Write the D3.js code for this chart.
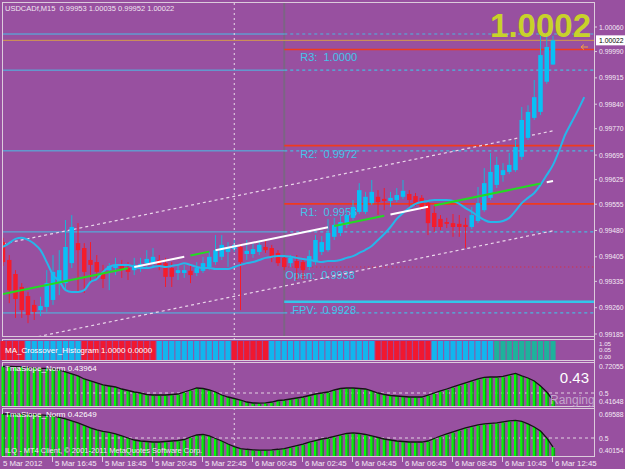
<!DOCTYPE html>
<html>
<head>
<meta charset="utf-8">
<script src="https://cdn.jsdelivr.net/npm/d3@7/dist/d3.min.js"></script>
<style>
  body { margin: 0; background: #9850a0; }
  svg { display: block; font-family: "Liberation Sans", Arial, sans-serif; }
</style>
</head>
<body>
<div id="chart"></div>
<script>
// ---- data ----
var chartTitle = "USDCADf,M15  0.99953 1.00035 0.99952 1.00022";

var barOpen = [
  0.99447, 0.99396, 0.99356, 0.99319, 0.99293, 0.99268, 0.99253, 0.99262, 0.99282, 0.99330,
  0.99330, 0.99387, 0.99444, 0.99430, 0.99396, 0.99390, 0.99362, 0.99367, 0.99373, 0.99379,
  0.99373, 0.99367, 0.99373, 0.99387, 0.99387, 0.99396, 0.99387, 0.99373, 0.99359, 0.99359,
  0.99365, 0.99359, 0.99365, 0.99376, 0.99390, 0.99405, 0.99419, 0.99427, 0.99433, 0.99413,
  0.99413, 0.99419, 0.99433, 0.99430, 0.99416, 0.99402, 0.99387, 0.99393, 0.99390, 0.99376,
  0.99390, 0.99419, 0.99424, 0.99462, 0.99473, 0.99496, 0.99516, 0.99533, 0.99533, 0.99558,
  0.99576, 0.99570, 0.99564, 0.99567, 0.99576, 0.99584, 0.99578, 0.99573, 0.99558, 0.99530,
  0.99513, 0.99504, 0.99501, 0.99499, 0.99496, 0.99490, 0.99507, 0.99538, 0.99573, 0.99610,
  0.99638, 0.99647, 0.99652, 0.99690, 0.99744, 0.99801, 0.99818, 0.99904, 0.99953
];
var barHigh = [
  0.99459, 0.99410, 0.99367, 0.99330, 0.99305, 0.99282, 0.99291, 0.99367, 0.99410, 0.99424,
  0.99510, 0.99524, 0.99501, 0.99444, 0.99447, 0.99410, 0.99382, 0.99387, 0.99402, 0.99396,
  0.99390, 0.99402, 0.99402, 0.99424, 0.99430, 0.99410, 0.99402, 0.99390, 0.99382, 0.99382,
  0.99379, 0.99390, 0.99405, 0.99419, 0.99467, 0.99467, 0.99447, 0.99453, 0.99442, 0.99453,
  0.99442, 0.99453, 0.99453, 0.99439, 0.99424, 0.99410, 0.99410, 0.99410, 0.99402, 0.99424,
  0.99467, 0.99464, 0.99513, 0.99516, 0.99524, 0.99538, 0.99567, 0.99615, 0.99590, 0.99624,
  0.99595, 0.99601, 0.99590, 0.99601, 0.99624, 0.99595, 0.99587, 0.99581, 0.99567, 0.99550,
  0.99524, 0.99516, 0.99527, 0.99524, 0.99516, 0.99547, 0.99604, 0.99658, 0.99701, 0.99690,
  0.99672, 0.99701, 0.99738, 0.99832, 0.99837, 0.99909, 1.00043, 1.00043, 1.00035
];
var barLow = [
  0.99379, 0.99273, 0.99231, 0.99231, 0.99216, 0.99225, 0.99236, 0.99248, 0.99268, 0.99296,
  0.99310, 0.99373, 0.99305, 0.99302, 0.99330, 0.99339, 0.99316, 0.99310, 0.99353, 0.99345,
  0.99339, 0.99353, 0.99362, 0.99373, 0.99373, 0.99367, 0.99319, 0.99319, 0.99339, 0.99345,
  0.99330, 0.99350, 0.99359, 0.99367, 0.99382, 0.99396, 0.99376, 0.99419, 0.99253, 0.99396,
  0.99402, 0.99410, 0.99416, 0.99390, 0.99379, 0.99367, 0.99376, 0.99339, 0.99339, 0.99367,
  0.99382, 0.99410, 0.99419, 0.99453, 0.99464, 0.99487, 0.99510, 0.99527, 0.99527, 0.99553,
  0.99524, 0.99538, 0.99547, 0.99561, 0.99570, 0.99544, 0.99550, 0.99538, 0.99467, 0.99476,
  0.99481, 0.99487, 0.99462, 0.99462, 0.99430, 0.99484, 0.99501, 0.99533, 0.99567, 0.99601,
  0.99619, 0.99641, 0.99647, 0.99681, 0.99738, 0.99795, 0.99809, 0.99898, 0.99952
];
var barClose = [
  0.99390, 0.99310, 0.99285, 0.99253, 0.99239, 0.99248, 0.99265, 0.99330, 0.99362, 0.99367,
  0.99433, 0.99490, 0.99424, 0.99362, 0.99382, 0.99362, 0.99342, 0.99379, 0.99382, 0.99367,
  0.99362, 0.99382, 0.99385, 0.99399, 0.99405, 0.99382, 0.99348, 0.99348, 0.99367, 0.99367,
  0.99353, 0.99373, 0.99387, 0.99405, 0.99424, 0.99439, 0.99433, 0.99439, 0.99390, 0.99422,
  0.99427, 0.99439, 0.99424, 0.99402, 0.99387, 0.99376, 0.99402, 0.99373, 0.99367, 0.99407,
  0.99453, 0.99447, 0.99473, 0.99496, 0.99504, 0.99524, 0.99547, 0.99595, 0.99576, 0.99590,
  0.99561, 0.99564, 0.99573, 0.99581, 0.99593, 0.99567, 0.99558, 0.99544, 0.99501, 0.99490,
  0.99490, 0.99499, 0.99490, 0.99490, 0.99490, 0.99524, 0.99558, 0.99615, 0.99647, 0.99667,
  0.99652, 0.99667, 0.99718, 0.99795, 0.99818, 0.99860, 0.99980, 1.00003, 1.00022
];

// TMA line (runs a few bars past the last candle)
var tmaLine = [
  0.99433, 0.99444, 0.99456, 0.99459, 0.99453, 0.99442, 0.99424, 0.99390, 0.99353, 0.99336,
  0.99310, 0.99305, 0.99305, 0.99310, 0.99333, 0.99342, 0.99362, 0.99376, 0.99382, 0.99382,
  0.99382, 0.99376, 0.99373, 0.99373, 0.99376, 0.99379, 0.99376, 0.99379, 0.99382, 0.99387,
  0.99382, 0.99376, 0.99373, 0.99373, 0.99370, 0.99370, 0.99370, 0.99376, 0.99382, 0.99387,
  0.99390, 0.99396, 0.99402, 0.99405, 0.99407, 0.99407, 0.99405, 0.99402, 0.99399, 0.99396,
  0.99393, 0.99390, 0.99393, 0.99393, 0.99396, 0.99402, 0.99407, 0.99416, 0.99425, 0.99436,
  0.99453, 0.99470, 0.99490, 0.99513, 0.99530, 0.99544, 0.99556, 0.99561, 0.99564, 0.99567,
  0.99567, 0.99567, 0.99564, 0.99556, 0.99544, 0.99533, 0.99521, 0.99510, 0.99504, 0.99504,
  0.99507, 0.99516, 0.99536, 0.99558, 0.99573, 0.99587, 0.99610, 0.99638, 0.99667, 0.99709,
  0.99755, 0.99789, 0.99823, 0.99860
];

// regression channel: value at first and last bar
var channelMid = [0.99299, 0.99621];
var channelUpper = [0.99442, 0.99764];
var channelLower = [0.99157, 0.99479];
// 1 = green, 0 = white segment of the middle line
var midState = [
  1,1,1,1,1,1,1,1,1,1, 1,1,1,1,1,1,1,1,1,1,
  1,0,0,0,0,0,0,0,0,0, 1,1,1,1,0,0,0,0,0,0,
  0,0,0,0,0,0,0,0,0,0, 0,0,0,1,1,1,1,1,1,1,
  1,1,0,0,0,0,0,0,0,1, 1,1,1,1,1,1,1,1,1,1,
  1,1,1,1,1,1,1,0,0
];

var levelPrices = [1.00040, 0.99937, 0.99707, 0.99476, 0.99245];
var pivotNames = ["R3", "R2", "R1", "Open", "FPV"];
var pivotValues = [0.99996, 0.99722, 0.99556, 0.99376, 0.99277];
var bidPrice = 1.00022;

var priceTicks = [1.00060, 0.99990, 0.99915, 0.99840, 0.99770, 0.99695, 0.99625,
                  0.99555, 0.99480, 0.99405, 0.99335, 0.99260, 0.99185];

var timeLabels = ["5 Mar 2012", "5 Mar 16:45", "5 Mar 18:45", "5 Mar 20:45", "5 Mar 22:45",
                  "6 Mar 00:45", "6 Mar 02:45", "6 Mar 04:45", "6 Mar 06:45", "6 Mar 08:45",
                  "6 Mar 10:45", "6 Mar 12:45"];
var timeLabelBars = [0, 8, 16, 24, 32, 40, 48, 56, 64, 72, 80, 88];
var daySeparatorBar = 37;
var pivotStartBar = 45;

// MA crossover histogram: 0 = red, 1 = blue, 2 = teal
var crossState = [
  0,0,0,0,1,1,1,1,1,1, 1,1,1,0,0,0,0,0,0,0,
  0,0,0,0,0,1,1,1,1,1, 1,1,1,1,1,1,1,0,0,0,
  0,0,0,1,1,1,1,1,1,1, 1,1,1,1,1,1,1,1,1,1,
  0,0,0,0,0,0,0,0,0,1, 1,1,1,1,1,1,1,1,1,2,
  2,2,2,2,2,2,2,2,2
];
var crossScaleLabels = ["1.05", "0.05", "0.00"];

var slopeA = [
  0.7205, 0.7205, 0.7200, 0.7167, 0.7125, 0.7083, 0.7042, 0.7042, 0.7000, 0.6917,
  0.6750, 0.6583, 0.6417, 0.6167, 0.6000, 0.5833, 0.5667, 0.5583, 0.5500, 0.5333,
  0.5208, 0.5083, 0.5000, 0.4875, 0.4833, 0.4833, 0.4833, 0.4875, 0.4917, 0.5083,
  0.5250, 0.5417, 0.5375, 0.5250, 0.5083, 0.4833, 0.4667, 0.4542, 0.4417, 0.4250,
  0.4167, 0.4165, 0.4170, 0.4250, 0.4375, 0.4417, 0.4500, 0.4583, 0.4667, 0.4792,
  0.4917, 0.5000, 0.5083, 0.5250, 0.5375, 0.5417, 0.5417, 0.5375, 0.5333, 0.5167,
  0.5000, 0.4875, 0.4792, 0.4750, 0.4708, 0.4667, 0.4667, 0.4667, 0.4833, 0.5000,
  0.5167, 0.5333, 0.5500, 0.5667, 0.5833, 0.6000, 0.6167, 0.6292, 0.6333, 0.6333,
  0.6375, 0.6500, 0.6625, 0.6417, 0.6250, 0.6000, 0.5583, 0.5083, 0.43964
];
var slopeB = [
  0.6959, 0.6959, 0.6959, 0.6959, 0.6926, 0.6926, 0.6885, 0.6844, 0.6803, 0.6680,
  0.6557, 0.6393, 0.6230, 0.6025, 0.5820, 0.5656, 0.5533, 0.5451, 0.5328, 0.5164,
  0.5000, 0.4836, 0.4754, 0.4713, 0.4672, 0.4672, 0.4713, 0.4754, 0.4795, 0.4877,
  0.5082, 0.5246, 0.5287, 0.5164, 0.4959, 0.4754, 0.4508, 0.4303, 0.4139, 0.4080,
  0.4035, 0.4016, 0.4016, 0.4035, 0.4080, 0.4139, 0.4262, 0.4385, 0.4508, 0.4672,
  0.4795, 0.4918, 0.5000, 0.5123, 0.5246, 0.5369, 0.5410, 0.5369, 0.5287, 0.5164,
  0.5041, 0.4918, 0.4836, 0.4754, 0.4713, 0.4672, 0.4672, 0.4672, 0.4754, 0.4959,
  0.5164, 0.5328, 0.5492, 0.5656, 0.5820, 0.5943, 0.6066, 0.6148, 0.6189, 0.6230,
  0.6311, 0.6393, 0.6434, 0.6352, 0.6148, 0.5902, 0.5574, 0.5000, 0.42649
];

// ---- layout ----
var W = 625, H = 469;
var right = 594;
var panel = {
  main: {top: 3, bottom: 336},
  cross: {top: 340, bottom: 360},
  s1: {top: 363, bottom: 406},
  s2: {top: 409, bottom: 456}
};
var bg = "#9850a0", frame = "#dccbdc", axisText = "#f4eaf4";
var bull = "#08c0f6", bear = "#f41c2c";
var axisFont = 6.8;

var svg = d3.select("#chart").append("svg")
    .attr("width", W)
    .attr("height", H);

svg.append("rect").attr("width", W).attr("height", H).attr("fill", bg);

var x = d3.scaleLinear().domain([0, 88]).range([3, 553]);
var y = d3.scaleLinear().domain([0.99185, 1.00060]).range([334, 27]);
var y1 = d3.scaleLinear().domain([0.5, 0.72055]).range([393, 366.5]);
var y2 = d3.scaleLinear().domain([0.5, 0.69588]).range([438, 414]);

// panel frames
Object.keys(panel).forEach(function(k) {
  var p = panel[k];
  svg.append("rect")
      .attr("x", 2.5).attr("y", p.top - 0.5)
      .attr("width", right - 2).attr("height", p.bottom - p.top + 1)
      .attr("fill", "none").attr("stroke", frame).attr("stroke-width", 1);
});
svg.append("line").attr("x1", right + 0.5).attr("x2", right + 0.5)
    .attr("y1", 2).attr("y2", 457).attr("stroke", frame);

svg.append("clipPath").attr("id", "clipMain")
  .append("rect").attr("x", 3).attr("y", panel.main.top)
    .attr("width", right - 3).attr("height", panel.main.bottom - panel.main.top);

var plot = svg.append("g").attr("clip-path", "url(#clipMain)");

// day separator through all panels
svg.append("line")
    .attr("x1", x(daySeparatorBar)).attr("x2", x(daySeparatorBar))
    .attr("y1", 3).attr("y2", 456)
    .attr("stroke", "#eadcea").attr("stroke-dasharray", "2,3");

// pivot start line
plot.append("line")
    .attr("x1", x(pivotStartBar)).attr("x2", x(pivotStartBar))
    .attr("y1", 3).attr("y2", 336)
    .attr("stroke", "#7c6484").attr("stroke-width", 2);

// cyan levels: solid before pivot start, dashed after
levelPrices.forEach(function(v) {
  plot.append("line")
      .attr("x1", 3).attr("x2", x(pivotStartBar))
      .attr("y1", y(v)).attr("y2", y(v))
      .attr("stroke", "#48bfe6").attr("stroke-width", 1);
  plot.append("line")
      .attr("x1", x(pivotStartBar)).attr("x2", right)
      .attr("y1", y(v)).attr("y2", y(v))
      .attr("stroke", "#48b8e0").attr("stroke-width", 1.2)
      .attr("stroke-dasharray", "3,3");
});

// bid line
plot.append("line")
    .attr("x1", 3).attr("x2", right)
    .attr("y1", y(bidPrice)).attr("y2", y(bidPrice))
    .attr("stroke", "#d49a4c").attr("stroke-width", 1);

// pivot lines
pivotNames.forEach(function(n, i) {
  var v = pivotValues[i];
  var ln = plot.append("line")
      .attr("x1", x(pivotStartBar)).attr("x2", right)
      .attr("y1", y(v)).attr("y2", y(v));
  if (n === "FPV") ln.attr("stroke", "#34c6ea").attr("stroke-width", 2.5);
  else if (n === "Open") ln.attr("stroke", "#e82828").attr("stroke-width", 1.2).attr("stroke-dasharray", "1,3");
  else ln.attr("stroke", "#f03a1e").attr("stroke-width", 1.6);
});

// pivot labels
var labelDx = {R3: 16, R2: 16, R1: 16, Open: 1, FPV: 8};
pivotNames.forEach(function(n, i) {
  plot.append("text")
      .attr("x", x(pivotStartBar) + labelDx[n])
      .attr("y", y(pivotValues[i]) + 12)
      .attr("fill", "#44c4ea")
      .attr("font-size", 11)
      .style("white-space", "pre")
      .text(n + ":  " + d3.format(".4f")(pivotValues[i]));
});

// regression channel
[channelUpper, channelLower].forEach(function(c) {
  plot.append("line")
      .attr("x1", x(0)).attr("x2", x(88))
      .attr("y1", y(c[0])).attr("y2", y(c[1]))
      .attr("stroke", "#ead6ea").attr("stroke-width", 1.2)
      .attr("stroke-dasharray", "3,3");
});

// candles
var bars = d3.range(barOpen.length).map(function(i) {
  return {i: i, o: barOpen[i], h: barHigh[i], l: barLow[i], c: barClose[i]};
});
var candle = plot.append("g").selectAll("g")
    .data(bars)
  .enter().append("g");
candle.append("line")
    .attr("x1", function(d) { return x(d.i); })
    .attr("x2", function(d) { return x(d.i); })
    .attr("y1", function(d) { return y(d.h); })
    .attr("y2", function(d) { return y(d.l); })
    .attr("stroke", function(d) { return d.c >= d.o ? "#18b4d8" : bear; })
    .attr("stroke-width", 1);
candle.append("rect")
    .attr("x", function(d) { return x(d.i) - 2.25; })
    .attr("width", 4.5)
    .attr("y", function(d) { return y(Math.max(d.o, d.c)); })
    .attr("height", function(d) { return Math.max(1.5, Math.abs(y(d.o) - y(d.c))); })
    .attr("fill", function(d) { return d.c >= d.o ? bull : bear; });

// TMA line
plot.append("path")
    .datum(tmaLine)
    .attr("fill", "none")
    .attr("stroke", "#26b6ea")
    .attr("stroke-width", 2)
    .attr("d", d3.line()
        .x(function(d, i) { return x(i); })
        .y(function(d) { return y(d); })
        .curve(d3.curveMonotoneX));

// middle regression line, coloured runs
var runs = [];
midState.forEach(function(s, i) {
  if (i === 0 || s !== midState[i - 1]) runs.push({s: s, a: i, b: i});
  else runs[runs.length - 1].b = i;
});
var midAt = function(i) { return channelMid[0] + (channelMid[1] - channelMid[0]) * i / 88; };
plot.append("g").selectAll("line")
    .data(runs)
  .enter().append("line")
    .attr("x1", function(d) { return x(d.a); })
    .attr("x2", function(d) { return x(d.b); })
    .attr("y1", function(d) { return y(midAt(d.a)); })
    .attr("y2", function(d) { return y(midAt(d.b)); })
    .attr("stroke", function(d) { return d.s ? "#22dc22" : "#ffffff"; })
    .attr("stroke-width", 2);

// title
svg.append("text")
    .attr("x", 5).attr("y", 11)
    .attr("fill", "#f0e4f0").attr("font-size", 7.5)
    .style("white-space", "pre")
    .text(chartTitle);

// big price
svg.append("text")
    .attr("x", 591).attr("y", 37)
    .attr("text-anchor", "end")
    .attr("fill", "#c8d22a")
    .attr("font-size", 33).attr("font-weight", "bold")
    .text(d3.format(".4f")(bidPrice));

// arrow near price
svg.append("path")
    .attr("d", "M588,47 L581,47 M584,44.5 L581,47 L584,49.5")
    .attr("stroke", "#f0a040").attr("fill", "none").attr("stroke-width", 1);

// right price axis
var py = svg.append("g");
py.selectAll("line").data(priceTicks).enter().append("line")
    .attr("x1", right).attr("x2", right + 3)
    .attr("y1", function(d) { return y(d); })
    .attr("y2", function(d) { return y(d); })
    .attr("stroke", frame);
py.selectAll("text").data(priceTicks).enter().append("text")
    .attr("x", right + 5)
    .attr("y", function(d) { return y(d) + 2.5; })
    .attr("fill", axisText).attr("font-size", axisFont)
    .text(function(d) { return d3.format(".5f")(d); });

svg.append("rect")
    .attr("x", right + 2).attr("y", y(bidPrice) - 5)
    .attr("width", 29).attr("height", 10)
    .attr("fill", "#ffffff");
svg.append("text")
    .attr("x", right + 5).attr("y", y(bidPrice) + 2.5)
    .attr("fill", "#000000").attr("font-size", axisFont)
    .text(d3.format(".5f")(bidPrice));

// ---- MA crossover histogram ----
var crossColors = ["#f01830", "#12b6ee", "#1eb29c"];
svg.append("g").selectAll("rect")
    .data(crossState)
  .enter().append("rect")
    .attr("x", function(d, i) { return x(i) - 2.6; })
    .attr("width", 5.2)
    .attr("y", panel.cross.top + 1)
    .attr("height", panel.cross.bottom - panel.cross.top - 1)
    .attr("fill", function(d) { return crossColors[d]; });
svg.append("text")
    .attr("x", 5).attr("y", 353)
    .attr("fill", "#ffffff").attr("font-size", 8)
    .text("MA_Crossover_Histogram 1.0000 0.0000");
var crossLabelY = [345.5, 352, 358.5];
crossScaleLabels.forEach(function(t, i) {
  svg.append("text").attr("x", right + 5).attr("y", crossLabelY[i])
      .attr("fill", axisText).attr("font-size", axisFont - 0.6).text(t);
});

// ---- slope panels ----
function slopePanel(vals, ys, p, label, maxV, minV) {
  var g = svg.append("g");
  g.append("line")
      .attr("x1", 3).attr("x2", right)
      .attr("y1", ys(0.5)).attr("y2", ys(0.5))
      .attr("stroke", "#e2d2e2").attr("stroke-dasharray", "3,3");
  g.selectAll("rect.a").data(vals).enter().append("rect")
      .attr("class", "a")
      .attr("x", function(d, i) { return x(i) - 1.5; })
      .attr("width", 2.2)
      .attr("y", function(d) { return ys(d); })
      .attr("height", function(d) { return p.bottom - ys(d); })
      .attr("fill", "#00ff00");
  g.selectAll("rect.b").data(vals).enter().append("rect")
      .attr("class", "b")
      .attr("x", function(d, i) { return x(i) + 0.7; })
      .attr("width", 1.4)
      .attr("y", function(d) { return ys(d) + 1; })
      .attr("height", function(d) { return p.bottom - ys(d) - 1; })
      .attr("fill", "#0c9a18");
  g.append("path")
      .datum(vals)
      .attr("fill", "none")
      .attr("stroke", "#141414")
      .attr("stroke-width", 1.3)
      .attr("d", d3.line()
          .x(function(d, i) { return x(i); })
          .y(function(d) { return ys(d); }));
  g.append("text")
      .attr("x", 5).attr("y", p.top + 8)
      .attr("fill", "#ffffff").attr("font-size", 8)
      .text(label);
  [maxV, 0.5, minV].forEach(function(v) {
    g.append("text")
        .attr("x", right + 5)
        .attr("y", Math.min(ys(v) + 2.5, p.bottom - 2))
        .attr("fill", axisText).attr("font-size", axisFont)
        .text(v === 0.5 ? "0.5" : d3.format(".5f")(v));
  });
  return g;
}

slopePanel(slopeA, y1, panel.s1, "TmaSlope_Norm " + d3.format(".5f")(slopeA[slopeA.length - 1]),
           0.72055, 0.41648);
slopePanel(slopeB, y2, panel.s2, "TmaSlope_Norm " + d3.format(".5f")(slopeB[slopeB.length - 1]),
           0.69588, 0.40154);

svg.append("text")
    .attr("x", 589).attr("y", 383)
    .attr("text-anchor", "end")
    .attr("fill", "#ffffff").attr("font-size", 15)
    .text(d3.format(".2f")(Math.floor(slopeA[slopeA.length - 1] * 100) / 100));
svg.append("text")
    .attr("x", 550).attr("y", 404)
    .attr("fill", "#c4a4cc").attr("font-size", 12)
    .text("Ranging");

svg.append("text")
    .attr("x", 5).attr("y", 453)
    .attr("fill", "#f4eaf4").attr("font-size", 7.5)
    .text("ILQ - MT4 Client, \u00a9 2001-2011 MetaQuotes Software Corp.");

// ---- time axis ----
var tx = svg.append("g");
timeLabels.forEach(function(t, i) {
  var xi = x(timeLabelBars[i]);
  if (i > 0) {
    tx.append("line")
        .attr("x1", xi - 0.5).attr("x2", xi - 0.5)
        .attr("y1", 457).attr("y2", 462)
        .attr("stroke", frame);
  }
  tx.append("text")
      .attr("x", i > 0 ? xi + 2 : 3)
      .attr("y", 466)
      .attr("fill", axisText).attr("font-size", 7.8)
      .text(t);
});
</script>
</body>
</html>
